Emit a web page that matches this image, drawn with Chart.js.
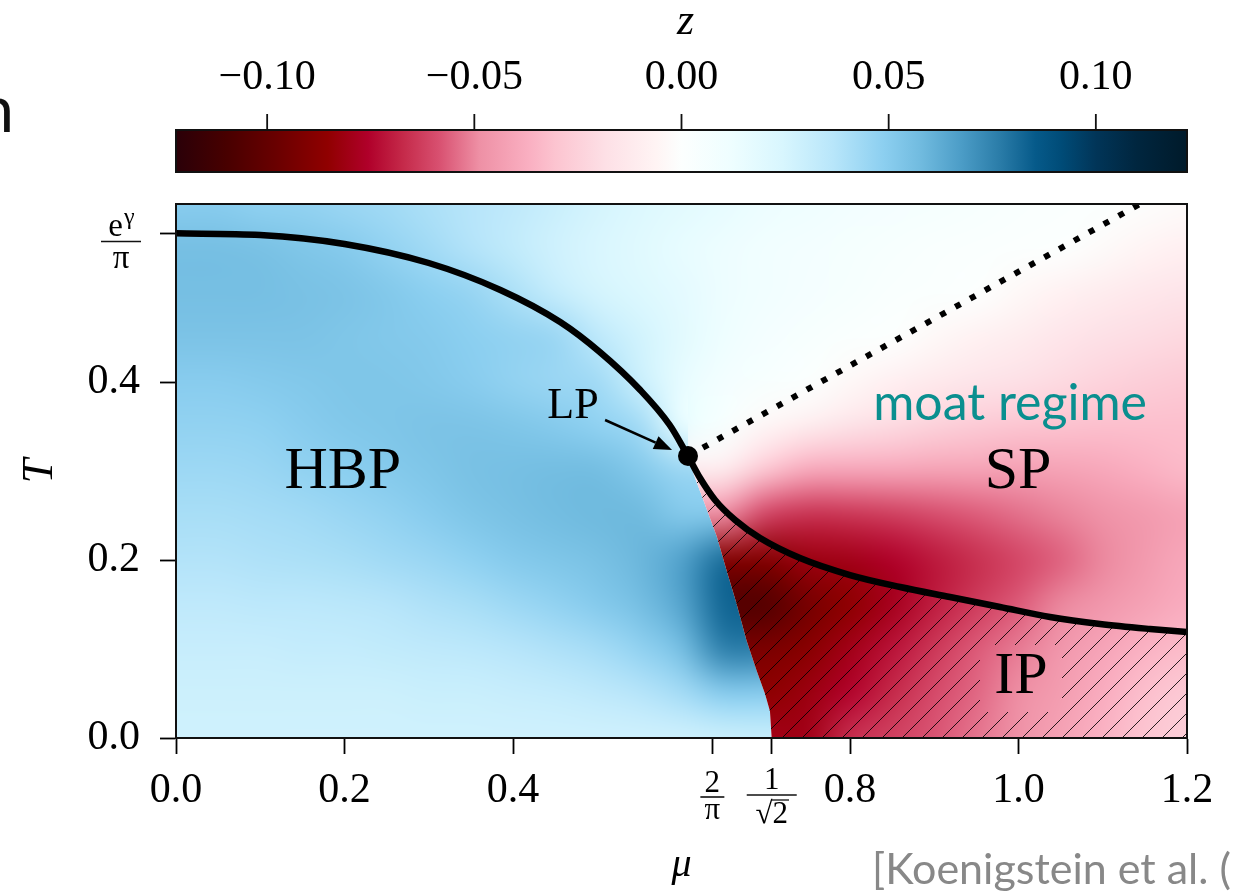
<!DOCTYPE html>
<html>
<head>
<meta charset="utf-8">
<script src="https://cdn.jsdelivr.net/npm/chart.js@4.4.1/dist/chart.umd.min.js"></script>
<style>
  html, body { margin: 0; padding: 0; background: #fff; }
  canvas { display: block; }
</style>
</head>
<body>
<canvas id="phase" width="1244" height="891"></canvas>
<script>
// grid of the colour field (mu across, T down from the top)
const muValues = [0, 0.05, 0.1, 0.15, 0.2, 0.25, 0.3, 0.35, 0.4, 0.45, 0.5, 0.55, 0.6, 0.65, 0.7, 0.75, 0.8, 0.85, 0.9, 0.95, 1.0, 1.05, 1.1, 1.15, 1.2];
const tValues = [0.6, 0.55, 0.5, 0.45, 0.4, 0.35, 0.3, 0.25, 0.2, 0.15, 0.1, 0.05, 0];
const zField = [
  [0.050, 0.050, 0.048, 0.047, 0.045, 0.043, 0.040, 0.037, 0.034, 0.030, 0.026, 0.022, 0.019, 0.016, 0.013, 0.011, 0.009, 0.007, 0.006, 0.004, 0.003, 0.002, 0.001, -0.001, -0.003], // T=0.60
  [0.056, 0.056, 0.055, 0.053, 0.051, 0.047, 0.043, 0.038, 0.033, 0.028, 0.024, 0.020, 0.016, 0.013, 0.010, 0.008, 0.006, 0.004, 0.003, 0.002, 0.001, 0.000, -0.003, -0.006, -0.009], // T=0.55
  [0.056, 0.056, 0.056, 0.055, 0.054, 0.052, 0.049, 0.046, 0.040, 0.032, 0.026, 0.022, 0.018, 0.013, 0.010, 0.007, 0.005, 0.003, 0.002, 0.000, -0.004, -0.008, -0.011, -0.014, -0.016], // T=0.50
  [0.054, 0.054, 0.054, 0.054, 0.053, 0.052, 0.051, 0.049, 0.047, 0.045, 0.035, 0.027, 0.019, 0.012, 0.007, 0.004, 0.002, 0.000, -0.004, -0.008, -0.011, -0.015, -0.018, -0.020, -0.022], // T=0.45
  [0.050, 0.050, 0.051, 0.052, 0.053, 0.053, 0.052, 0.050, 0.047, 0.045, 0.043, 0.030, 0.016, 0.008, 0.004, 0.001, -0.004, -0.009, -0.013, -0.016, -0.018, -0.021, -0.024, -0.026, -0.028], // T=0.40
  [0.047, 0.047, 0.048, 0.050, 0.052, 0.053, 0.054, 0.054, 0.053, 0.051, 0.048, 0.043, 0.016, 0.004, -0.005, -0.011, -0.017, -0.021, -0.025, -0.028, -0.030, -0.031, -0.032, -0.032, -0.032], // T=0.35
  [0.044, 0.044, 0.045, 0.047, 0.049, 0.051, 0.053, 0.055, 0.056, 0.057, 0.057, 0.052, 0.045, -0.012, -0.030, -0.040, -0.041, -0.041, -0.042, -0.042, -0.043, -0.042, -0.040, -0.037, -0.034], // T=0.30
  [0.041, 0.041, 0.042, 0.043, 0.045, 0.047, 0.050, 0.053, 0.055, 0.057, 0.058, 0.058, 0.052, -0.050, -0.062, -0.066, -0.065, -0.063, -0.060, -0.057, -0.054, -0.051, -0.048, -0.045, -0.042], // T=0.25
  [0.038, 0.038, 0.039, 0.040, 0.041, 0.043, 0.045, 0.048, 0.051, 0.053, 0.055, 0.059, 0.066, 0.081, -0.090, -0.082, -0.080, -0.076, -0.071, -0.066, -0.061, -0.056, -0.050, -0.045, -0.040], // T=0.20
  [0.034, 0.034, 0.035, 0.035, 0.036, 0.037, 0.039, 0.041, 0.044, 0.047, 0.051, 0.056, 0.065, 0.083, -0.106, -0.094, -0.086, -0.079, -0.070, -0.063, -0.057, -0.050, -0.046, -0.042, -0.038], // T=0.15
  [0.031, 0.031, 0.031, 0.032, 0.032, 0.033, 0.034, 0.035, 0.037, 0.039, 0.042, 0.047, 0.056, 0.076, -0.092, -0.088, -0.080, -0.072, -0.064, -0.057, -0.052, -0.046, -0.041, -0.036, -0.033], // T=0.10
  [0.029, 0.029, 0.029, 0.029, 0.029, 0.029, 0.030, 0.030, 0.031, 0.032, 0.034, 0.037, 0.042, 0.050, -0.086, -0.082, -0.075, -0.067, -0.060, -0.055, -0.049, -0.044, -0.038, -0.032, -0.028], // T=0.05
  [0.028, 0.028, 0.028, 0.028, 0.028, 0.028, 0.028, 0.028, 0.028, 0.028, 0.028, 0.028, 0.028, 0.029, 0.030, -0.080, -0.066, -0.062, -0.058, -0.053, -0.048, -0.042, -0.036, -0.030, -0.026]  // T=0.00
];

// phase boundaries
const hbpLineMu = [0, 0.1, 0.2, 0.3, 0.385, 0.456, 0.503, 0.551, 0.586, 0.6077];
const hbpLineT = [0.567, 0.5652, 0.5551, 0.5337, 0.5034, 0.4674, 0.4337, 0.391, 0.3517, 0.3169];
const ipLineMu = [0.6077, 0.622, 0.6398, 0.6636, 0.6932, 0.7406, 0.8, 0.8595, 0.9187, 0.978, 1.0374, 1.0967, 1.1561, 1.2];
const ipLineT = [0.3169, 0.2921, 0.2674, 0.2449, 0.2247, 0.2022, 0.1831, 0.1697, 0.1584, 0.1472, 0.136, 0.1281, 0.1225, 0.1191];
const moatLineMu = [0.6077, 1.1442];
const moatLineT = [0.3169, 0.6];
const edgeMu = [0.707, 0.705, 0.699, 0.689, 0.677, 0.665, 0.653, 0.642, 0.626, 0.615, 0.6077];
const edgeT = [0, 0.03, 0.05, 0.076, 0.11, 0.152, 0.19, 0.226, 0.267, 0.295, 0.3169];
const lpPoint = { mu: 0.6077, t: 0.3169 };

// ticks
const xTickValues = [0, 0.2, 0.4, 2 / Math.PI, 1 / Math.SQRT2, 0.8, 1.0, 1.2];
const yTickValues = [0, 0.2, 0.4, Math.exp(0.5772156649) / Math.PI];
const zTickValues = [-0.10, -0.05, 0, 0.05, 0.10];
const zTickLabels = ['\u22120.10', '\u22120.05', '0.00', '0.05', '0.10'];
const zRange = [-0.122, 0.122];

// colour map of the bar, dark red -> white -> dark blue
const cmapPos = [0, 0.05, 0.1, 0.15, 0.19, 0.225, 0.26, 0.3, 0.35, 0.375, 0.425, 0.475, 0.5, 0.55, 0.6, 0.65, 0.7, 0.735, 0.775, 0.815, 0.85, 0.875, 0.91, 0.95, 1];
const cmapHex = ['#2a0008', '#480000', '#6a0000', '#900000', '#b0002a', '#c52a4a', '#d85070', '#ee90a5', '#fab0c2', '#fcc4d0', '#fde0e6', '#fff4f4', '#fcfffe', '#eefeff', '#d8f6fe', '#b8e6fa', '#8ccff0', '#72bce0', '#4d9ec8', '#2a7ca8', '#065a8a', '#004c78', '#013558', '#00263f', '#001a2a'];

const SERIF = '"Liberation Serif", "Times New Roman", serif';
const SANS = 'Lato, "Open Sans", sans-serif';

const hexRgb = h => [parseInt(h.slice(1, 3), 16), parseInt(h.slice(3, 5), 16), parseInt(h.slice(5, 7), 16)];
const cmapRgb = cmapHex.map(hexRgb);

function zColor(z) {
  let t = (z - zRange[0]) / (zRange[1] - zRange[0]);
  t = Math.min(1, Math.max(0, t));
  let k = 1;
  while (k < cmapPos.length - 1 && cmapPos[k] < t) k++;
  const f = (t - cmapPos[k - 1]) / (cmapPos[k] - cmapPos[k - 1]);
  const a = cmapRgb[k - 1], b = cmapRgb[k];
  return [0, 1, 2].map(j => Math.round(a[j] + (b[j] - a[j]) * f));
}

// side = 1 keeps the blue (HBP) side, -1 the red side; below LP the other side is padded
function drawField(ctx, X, Y, side) {
  const cols = muValues.length, rows = tValues.length;
  const off = document.createElement('canvas');
  off.width = cols; off.height = rows;
  const oc = off.getContext('2d');
  const img = oc.createImageData(cols, rows);
  for (let r = 0; r < rows; r++) {
    const row = zField[r];
    for (let i = 0; i < cols; i++) {
      let z = row[i];
      if (tValues[r] < lpPoint.t && Math.sign(z) !== side) {
        let best = -1;
        for (let k = 0; k < cols; k++) {
          if (Math.sign(row[k]) === side && (best < 0 || Math.abs(k - i) < Math.abs(best - i))) best = k;
        }
        if (best >= 0) z = row[best];
      }
      const c = zColor(z), p = (r * cols + i) * 4;
      img.data[p] = c[0]; img.data[p + 1] = c[1]; img.data[p + 2] = c[2]; img.data[p + 3] = 255;
    }
  }
  oc.putImageData(img, 0, 0);
  const hm = (muValues[1] - muValues[0]) / 2, ht = (tValues[0] - tValues[1]) / 2;
  const x0 = X(muValues[0] - hm), x1 = X(muValues[cols - 1] + hm);
  const y0 = Y(tValues[0] + ht), y1 = Y(tValues[rows - 1] - ht);
  ctx.imageSmoothingEnabled = true;
  ctx.imageSmoothingQuality = 'high';
  ctx.drawImage(off, x0, y0, x1 - x0, y1 - y0);
}

function fraction(ctx, cx, barY, barHalf, num, den, size) {
  ctx.save();
  ctx.fillStyle = '#000';
  ctx.strokeStyle = '#000';
  ctx.textAlign = 'center';
  ctx.textBaseline = 'alphabetic';
  ctx.font = size + 'px ' + SERIF;
  ctx.fillText(num, cx, barY - 5);
  ctx.fillText(den, cx, barY + size * 0.72);
  ctx.lineWidth = 1.5;
  ctx.beginPath();
  ctx.moveTo(cx - barHalf, barY);
  ctx.lineTo(cx + barHalf, barY);
  ctx.stroke();
  ctx.restore();
}

const phasePlugin = {
  id: 'phase',
  beforeDatasetsDraw(chart) {
    const { ctx, chartArea: a, scales: { x, y } } = chart;
    const X = v => x.getPixelForValue(v), Y = v => y.getPixelForValue(v);
    ctx.save();
    ctx.beginPath();
    ctx.rect(a.left, a.top, a.width, a.height);
    ctx.clip();

    // blue side (HBP)
    ctx.save();
    ctx.beginPath();
    ctx.moveTo(X(-0.1), Y(-0.1));
    ctx.lineTo(X(edgeMu[0] + 0.001), Y(-0.1));
    for (let i = 0; i < edgeMu.length; i++) ctx.lineTo(X(edgeMu[i]), Y(edgeT[i]));
    ctx.lineTo(X(lpPoint.mu), Y(0.7));
    ctx.lineTo(X(-0.1), Y(0.7));
    ctx.closePath();
    ctx.clip();
    drawField(ctx, X, Y, 1);
    ctx.restore();

    // red side
    ctx.save();
    ctx.beginPath();
    ctx.moveTo(X(lpPoint.mu), Y(0.7));
    ctx.lineTo(X(1.3), Y(0.7));
    ctx.lineTo(X(1.3), Y(-0.1));
    ctx.lineTo(X(edgeMu[0] + 0.001), Y(-0.1));
    for (let i = 0; i < edgeMu.length; i++) ctx.lineTo(X(edgeMu[i]), Y(edgeT[i]));
    ctx.closePath();
    ctx.clip();
    drawField(ctx, X, Y, -1);
    ctx.restore();

    // hatching of the inhomogeneous phase
    ctx.save();
    ctx.beginPath();
    ctx.moveTo(X(edgeMu[0] + 0.001), Y(-0.1));
    for (let i = 0; i < edgeMu.length; i++) ctx.lineTo(X(edgeMu[i]), Y(edgeT[i]));
    for (let i = 1; i < ipLineMu.length; i++) ctx.lineTo(X(ipLineMu[i]), Y(ipLineT[i]));
    ctx.lineTo(X(1.3), Y(ipLineT[ipLineT.length - 1]));
    ctx.lineTo(X(1.3), Y(-0.1));
    ctx.closePath();
    const lx = X(1.003), ly = Y(0.0685);
    ctx.rect(lx - 41, ly - 32, 82, 67);
    ctx.clip('evenodd');
    ctx.strokeStyle = 'rgba(0,0,0,0.85)';
    ctx.lineWidth = 1;
    ctx.beginPath();
    const H = a.bottom - a.top;
    for (let c = a.left - H; c < a.right; c += 20) {
      ctx.moveTo(c, a.bottom);
      ctx.lineTo(c + H, a.top);
    }
    ctx.stroke();
    ctx.restore();

    ctx.restore();
  },
  afterDatasetsDraw(chart) {
    const { ctx, chartArea: a, scales: { x, y } } = chart;
    const X = v => x.getPixelForValue(v), Y = v => y.getPixelForValue(v);
    ctx.save();
    // frame
    ctx.strokeStyle = '#111';
    ctx.lineWidth = 2;
    ctx.strokeRect(a.left, a.top, a.width, a.height);

    // region labels
    ctx.fillStyle = '#000';
    ctx.textAlign = 'center';
    ctx.textBaseline = 'middle';
    ctx.font = '60px ' + SERIF;
    ctx.fillText('HBP', X(0.198), Y(0.299));
    ctx.fillText('SP', X(0.9994), Y(0.299));
    ctx.fillText('IP', X(1.003), Y(0.0685));
    ctx.font = '44px ' + SERIF;
    ctx.fillText('LP', X(0.4712), Y(0.373));
    ctx.fillStyle = '#0a8f8f';
    ctx.font = '50px ' + SANS;
    ctx.fillText('moat regime', X(0.99), Y(0.375));

    // LP arrow
    const sx = X(0.5093), sy = Y(0.3573), tx = X(0.5888), ty = Y(0.3236);
    const ang = Math.atan2(ty - sy, tx - sx), hl = 18, hw = 7;
    const bx = tx - hl * Math.cos(ang), by = ty - hl * Math.sin(ang);
    ctx.strokeStyle = '#000';
    ctx.fillStyle = '#000';
    ctx.lineWidth = 2.5;
    ctx.beginPath();
    ctx.moveTo(sx, sy);
    ctx.lineTo(bx, by);
    ctx.stroke();
    ctx.beginPath();
    ctx.moveTo(tx, ty);
    ctx.lineTo(bx + hw * Math.sin(ang), by - hw * Math.cos(ang));
    ctx.lineTo(bx - hw * Math.sin(ang), by + hw * Math.cos(ang));
    ctx.closePath();
    ctx.fill();
    ctx.restore();
  },
  afterDraw(chart) {
    const { ctx, chartArea: a, scales: { x, y } } = chart;
    const X = v => x.getPixelForValue(v), Y = v => y.getPixelForValue(v);
    ctx.save();

    // colour bar
    const cbTop = 130, cbBot = 172;
    const Z = v => a.left + (v - zRange[0]) / (zRange[1] - zRange[0]) * a.width;
    const grad = ctx.createLinearGradient(a.left, 0, a.right, 0);
    cmapPos.forEach((p, i) => grad.addColorStop(p, cmapHex[i]));
    ctx.fillStyle = grad;
    ctx.fillRect(a.left, cbTop, a.width, cbBot - cbTop);
    ctx.strokeStyle = '#111';
    ctx.lineWidth = 2;
    ctx.strokeRect(a.left, cbTop, a.width, cbBot - cbTop);
    ctx.lineWidth = 1.8;
    ctx.fillStyle = '#000';
    ctx.textAlign = 'center';
    ctx.textBaseline = 'alphabetic';
    ctx.font = '42px ' + SERIF;
    zTickValues.forEach((v, i) => {
      const px = Z(v);
      ctx.beginPath();
      ctx.moveTo(px, cbTop);
      ctx.lineTo(px, cbTop - 16);
      ctx.stroke();
      ctx.fillText(zTickLabels[i], px, 89);
    });
    ctx.font = 'italic 44px ' + SERIF;
    ctx.fillText('z', (a.left + a.right) / 2 + 4, 34);

    // fraction tick labels
    fraction(ctx, X(2 / Math.PI), 797, 12, '2', '\u03c0', 31);
    // 1/sqrt(2)
    const rx = X(1 / Math.SQRT2);
    ctx.font = '31px ' + SERIF;
    ctx.textAlign = 'center';
    ctx.fillText('1', rx, 789);
    ctx.beginPath();
    ctx.lineWidth = 1.5;
    ctx.moveTo(rx - 25, 795);
    ctx.lineTo(rx + 25, 795);
    ctx.stroke();
    const wr = ctx.measureText('\u221a').width, w2 = ctx.measureText('2').width;
    const sx0 = rx - (wr + w2) / 2;
    ctx.textAlign = 'left';
    ctx.fillText('\u221a', sx0, 823);
    ctx.fillText('2', sx0 + wr, 823);
    ctx.beginPath();
    ctx.lineWidth = 1.3;
    ctx.moveTo(sx0 + wr - 1, 800);
    ctx.lineTo(sx0 + wr + w2 + 1, 800);
    ctx.stroke();

    // e^gamma / pi
    const ex = 121, ey = Y(yTickValues[3]) + 8;
    ctx.textAlign = 'left';
    ctx.font = '33px ' + SERIF;
    const we = ctx.measureText('e').width;
    ctx.font = '24px ' + SERIF;
    const wg = ctx.measureText('\u03b3').width;
    ctx.font = '33px ' + SERIF;
    ctx.fillText('e', ex - (we + wg) / 2, ey - 5);
    ctx.font = '24px ' + SERIF;
    ctx.fillText('\u03b3', ex - (we + wg) / 2 + we + 1, ey - 17);
    ctx.font = '33px ' + SERIF;
    ctx.textAlign = 'center';
    ctx.fillText('\u03c0', ex, ey + 27);
    ctx.beginPath();
    ctx.lineWidth = 1.5;
    ctx.moveTo(ex - 20, ey);
    ctx.lineTo(ex + 20, ey);
    ctx.stroke();

    // slide leftovers
    ctx.fillStyle = '#888';
    ctx.textAlign = 'left';
    ctx.font = '43px ' + SANS;
    ctx.fillText('[Koenigstein et al. (', 872, 884);
    ctx.fillStyle = '#111';
    ctx.textAlign = 'right';
    ctx.font = '64px ' + SANS;
    ctx.fillText('n', 14, 132);
    ctx.restore();
  }
};

const toPoints = (mu, t) => mu.map((m, i) => ({ x: m, y: t[i] }));

new Chart(document.getElementById('phase'), {
  type: 'scatter',
  data: {
    datasets: [{
      label: 'LP',
      data: [{ x: lpPoint.mu, y: lpPoint.t }],
      pointRadius: 10,
      pointBackgroundColor: '#000',
      pointBorderWidth: 0,
      showLine: false
    }, {
      label: 'HBP boundary',
      data: toPoints(hbpLineMu, hbpLineT),
      showLine: true,
      borderColor: '#000',
      borderWidth: 6.5,
      pointRadius: 0,
      cubicInterpolationMode: 'monotone'
    }, {
      label: 'IP boundary',
      data: toPoints(ipLineMu, ipLineT),
      showLine: true,
      borderColor: '#000',
      borderWidth: 6.5,
      pointRadius: 0,
      cubicInterpolationMode: 'monotone'
    }, {
      label: 'moat boundary',
      data: toPoints(moatLineMu, moatLineT),
      showLine: true,
      borderColor: '#000',
      borderWidth: 6,
      borderDash: [6, 11],
      borderCapStyle: 'butt',
      pointRadius: 0
    }]
  },
  options: {
    responsive: false,
    animation: false,
    devicePixelRatio: 1,
    layout: { padding: { top: 204, right: 57, left: 0, bottom: 0 } },
    plugins: {
      legend: { display: false },
      tooltip: { enabled: false }
    },
    scales: {
      x: {
        type: 'linear',
        min: 0,
        max: 1.2,
        afterBuildTicks: s => { s.ticks = xTickValues.map(v => ({ value: v })); },
        afterFit: s => { s.height = 153; },
        grid: { drawOnChartArea: false, drawTicks: true, tickLength: 16, tickWidth: 1.8, tickColor: '#000' },
        border: { display: true, color: '#111', width: 2 },
        ticks: {
          autoSkip: false,
          maxRotation: 0,
          padding: 12,
          color: '#000',
          font: { family: SERIF, size: 42 },
          callback: v => (Math.abs(v - 2 / Math.PI) < 1e-6 || Math.abs(v - 1 / Math.SQRT2) < 1e-6) ? '' : v.toFixed(1)
        },
        title: { display: true, text: '\u03bc', color: '#000', font: { family: SERIF, size: 40, style: 'italic' }, padding: { top: 0, bottom: 2 } }
      },
      y: {
        type: 'linear',
        min: 0,
        max: 0.6,
        afterBuildTicks: s => { s.ticks = yTickValues.map(v => ({ value: v })); },
        afterFit: s => { s.width = 176; },
        grid: { drawOnChartArea: false, drawTicks: true, tickLength: 16, tickWidth: 1.8, tickColor: '#000' },
        border: { display: true, color: '#111', width: 2 },
        ticks: {
          autoSkip: false,
          padding: 20,
          color: '#000',
          font: { family: SERIF, size: 42 },
          callback: v => v > 0.5 ? '' : v.toFixed(1)
        },
        title: { display: true, text: 'T', color: '#000', font: { family: SERIF, size: 44, style: 'italic' }, padding: { top: 14, bottom: 0 } }
      }
    }
  },
  plugins: [phasePlugin]
});
</script>
</body>
</html>
